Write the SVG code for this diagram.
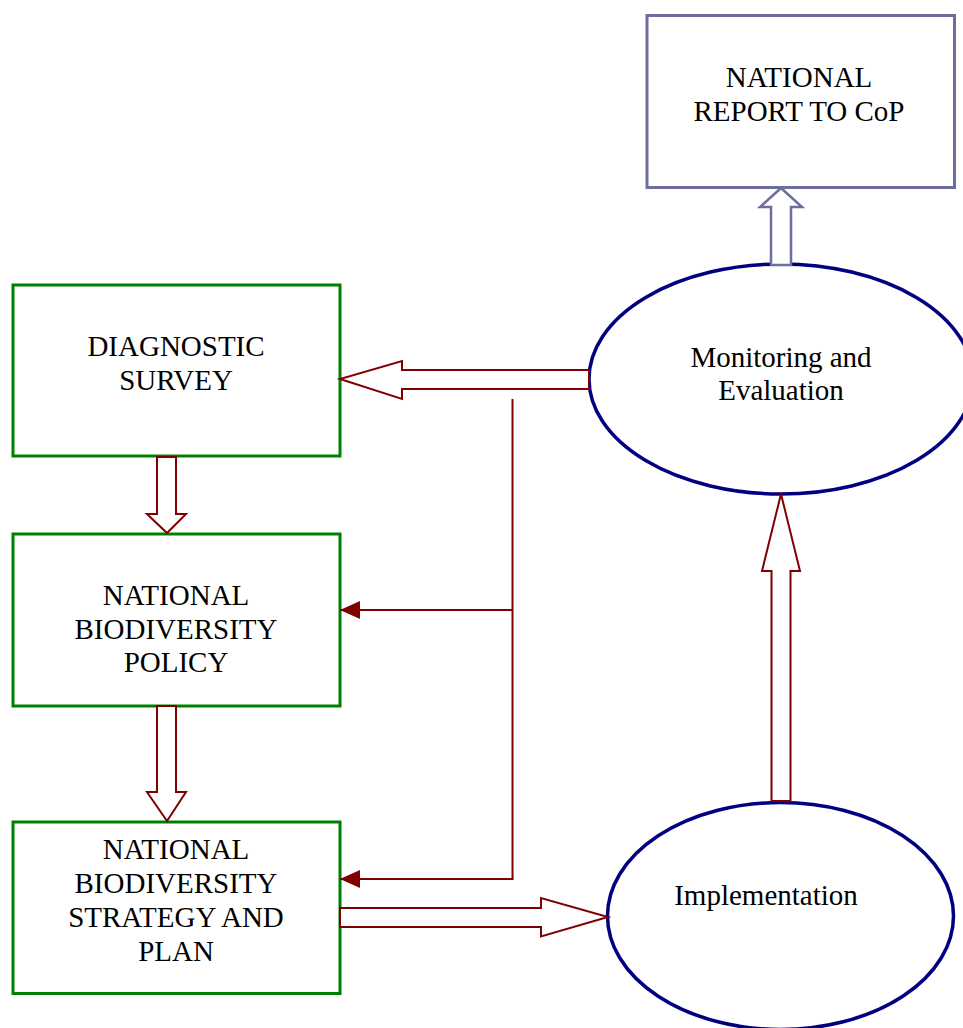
<svg xmlns="http://www.w3.org/2000/svg" width="963" height="1028" viewBox="0 0 963 1028">
<style>
text{font-family:"Liberation Serif","Times New Roman",serif;font-size:29px;fill:#000;text-anchor:middle}
.box{fill:#fff;stroke:#008000;stroke-width:3}
.ell{fill:#fff;stroke:#000080;stroke-width:3.5}
.rep{fill:#fff;stroke:#6E6E9E;stroke-width:3}
.blk{fill:#fff;stroke:#800000;stroke-width:2}
.blkS{fill:#fff;stroke:#6E6E9E;stroke-width:2.5}
.ln{fill:none;stroke:#800000;stroke-width:2}
</style>
<defs>
<marker id="ah" markerWidth="20" markerHeight="18" refX="20" refY="9" orient="auto" markerUnits="userSpaceOnUse">
<path d="M0,0 L20,9 L0,18 Z" fill="#800000"/>
</marker>
</defs>
<g id="report">
<rect class="rep" x="647" y="15.5" width="307.5" height="172"/>
<text x="799" y="87">NATIONAL</text>
<text x="799" y="120.5">REPORT TO CoP</text>
</g>
<g id="monitoring">
<ellipse class="ell" cx="781" cy="379" rx="192" ry="115"/>
<text x="781" y="366.5">Monitoring and</text>
<text x="781" y="400">Evaluation</text>
</g>
<g id="implementation">
<ellipse class="ell" cx="780.5" cy="916" rx="173" ry="113.5"/>
<text x="766" y="905">Implementation</text>
</g>
<g id="diagnostic">
<rect class="box" x="13" y="285" width="327" height="171"/>
<text x="176" y="356">DIAGNOSTIC</text>
<text x="176" y="389.5">SURVEY</text>
</g>
<g id="policy">
<rect class="box" x="13" y="534" width="327" height="172"/>
<text x="176" y="605">NATIONAL</text>
<text x="176" y="639">BIODIVERSITY</text>
<text x="176" y="672">POLICY</text>
</g>
<g id="strategy">
<rect class="box" x="13" y="822" width="327" height="171.5"/>
<text x="176" y="858.5">NATIONAL</text>
<text x="176" y="892.5">BIODIVERSITY</text>
<text x="176" y="926.5">STRATEGY AND</text>
<text x="176" y="960.5">PLAN</text>
</g>
<g id="connectors">
<polygon class="blkS" points="771,265 771,207 760,207 781,188 802,207 791,207 791,265"/>
<polygon class="blk" points="589,370 402,370 402,361 340,379 402,399 402,389 589,389"/>
<polygon class="blk" points="157,457 157,514 147,514 167,533 186,514 176,514 176,457"/>
<polygon class="blk" points="157,706 157,792 147,792 167,821 186,792 176,792 176,706"/>
<polygon class="blk" points="771.5,801 771.5,571 762,571 781,494 800,571 790.5,571 790.5,801"/>
<polygon class="blk" points="340,908 541,908 541,898 608,917 541,936.5 541,927 340,927"/>
<line class="ln" x1="512.5" y1="399" x2="512.5" y2="879"/>
<line class="ln" x1="512.5" y1="610" x2="340" y2="610" marker-end="url(#ah)"/>
<line class="ln" x1="513.5" y1="879" x2="340" y2="879" marker-end="url(#ah)"/>
</g>
</svg>
